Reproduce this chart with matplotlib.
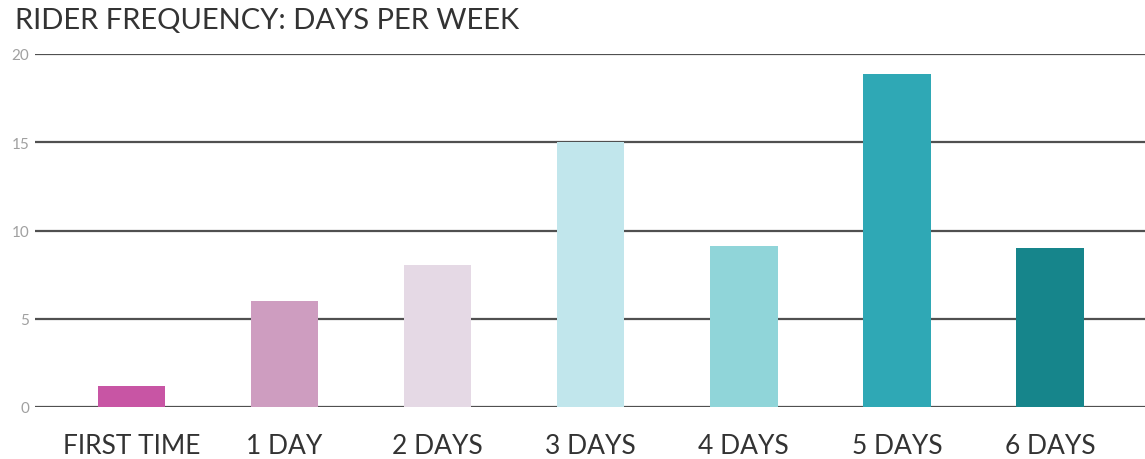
import matplotlib.pyplot as plt
import matplotlib as mpl

mpl.rcParams['font.family'] = ['Lato', 'DejaVu Sans']

categories = ['FIRST TIME', '1 DAY', '2 DAYS', '3 DAYS', '4 DAYS', '5 DAYS', '6 DAYS']
riders = [1.2, 6.0, 8.05, 15.0, 9.15, 18.85, 9.0]
bar_colors = ['#C855A4', '#CE9DC0', '#E5D9E5', '#C1E6EC', '#90D5D9', '#2FA8B5', '#16858B']
yticks = [0, 5, 10, 15, 20]

fig = plt.figure(figsize=(11.45, 4.6), dpi=100)
ax = fig.add_axes([35 / 1145, 1 - 408 / 460, 1 - 35 / 1145, (408 - 55) / 460])

x = range(len(categories))
ax.bar(x, riders, width=0.44, color=bar_colors, zorder=3)

ax.set_ylim(0, 20)
ax.set_xlim(-0.63, 6.62)
ax.set_yticks(yticks)
ax.set_xticks(list(x))
ax.set_xticklabels(categories)
for yv in yticks:
    ax.axhline(yv, color='#505050', lw=1.6, zorder=1)

for s in ax.spines.values():
    s.set_visible(False)
ax.tick_params(axis='y', length=0, pad=4, labelsize=11, labelcolor='#a0a0a0')
ax.tick_params(axis='x', length=0, pad=19, labelsize=19, labelcolor='#333333')

fig.text(15 / 1145, 1 - 29 / 460, 'RIDER FREQUENCY: DAYS PER WEEK',
         fontsize=21, color='#333333', ha='left', va='baseline')

fig.savefig('out.png', dpi=100)
